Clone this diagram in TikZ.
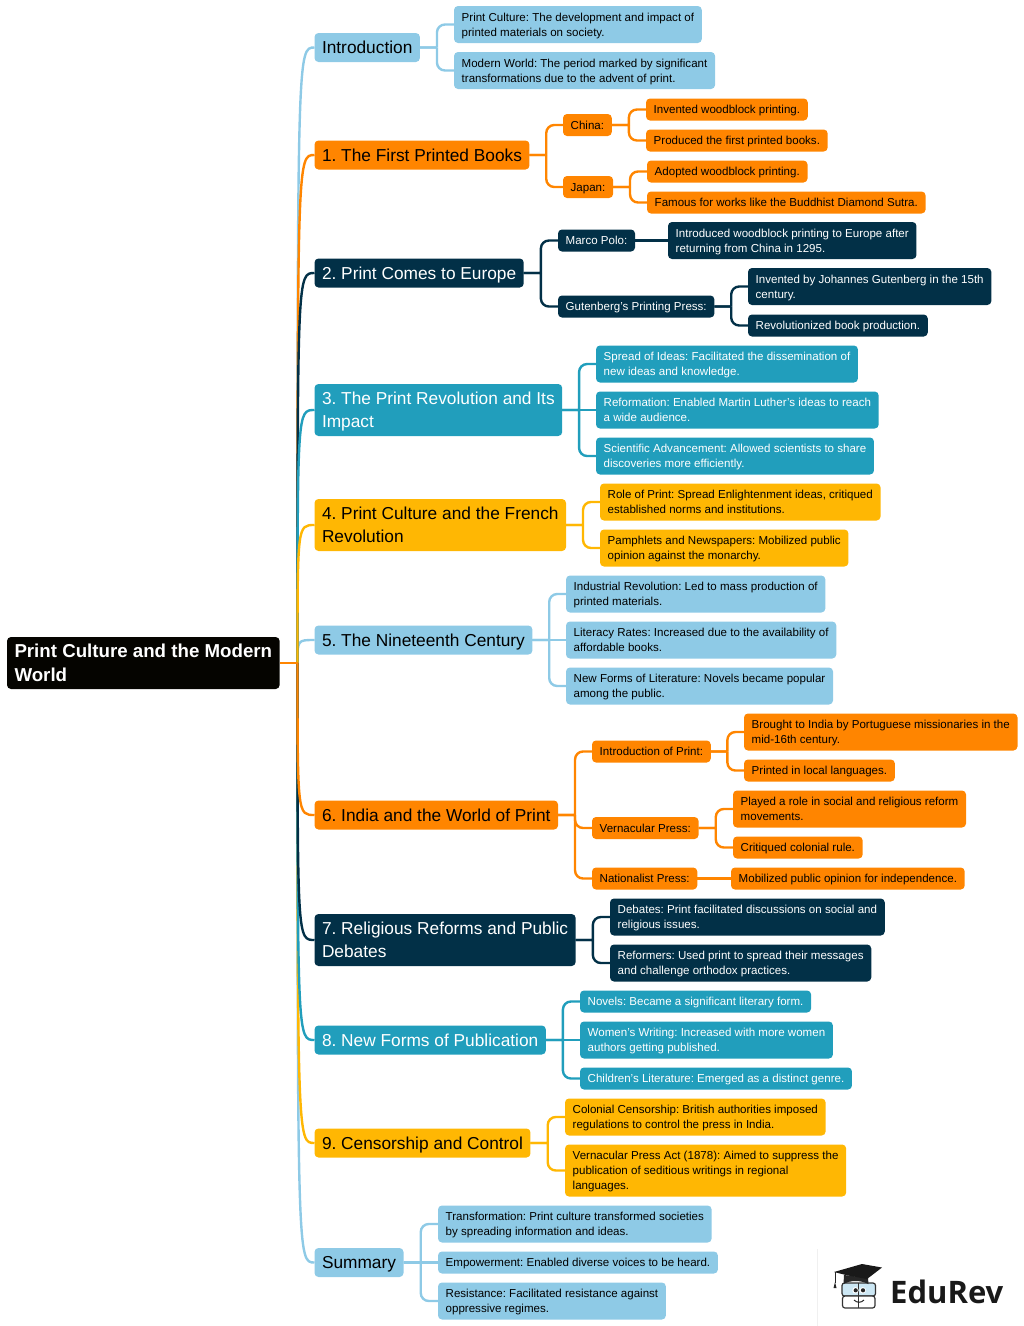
\documentclass[tikz,border=0pt]{standalone}
\usepackage{fontspec}
\setmainfont{Liberation Sans}
\newfontfamily\logofont{Open Sans}
\usetikzlibrary{calc}
\definecolor{skyblue}{HTML}{8ECAE6}
\definecolor{tealblue}{HTML}{219EBC}
\definecolor{navyblue}{HTML}{023047}
\definecolor{amberyellow}{HTML}{FFB703}
\definecolor{deeporange}{HTML}{FF8500}
\definecolor{rootblack}{HTML}{050400}
\newcommand{\boxstrut}{\rule[-0.22\baselineskip]{0pt}{\baselineskip}}
\tikzset{
  box/.style={rounded corners=4pt,anchor=west,align=left,inner xsep=7.5pt,outer sep=0pt,
    execute at begin node={\frenchspacing\boxstrut},execute at end node=\boxstrut},
  rootbox/.style={box,fill=rootblack,text=white,inner ysep=2pt,font=\fontsize{18.7}{24}\selectfont\bfseries},
  mainbox/.style={box,inner ysep=3pt,font=\fontsize{17.3}{23}\selectfont},
  leafbox/.style={box,inner ysep=3.5pt,inner xsep=7.7pt,font=\fontsize{11.55}{15}\selectfont},
  sky/.style={fill=skyblue,text=black},
  orange/.style={fill=deeporange,text=black},
  navy/.style={fill=navyblue,text=white},
  teal/.style={fill=tealblue,text=white},
  amber/.style={fill=amberyellow,text=black},
  trunklink/.style={line width=2.4pt},
  branchlink/.style={line width=2.4pt,rounded corners=8pt},
}
\newcommand{\trunkto}[2]{\draw[trunklink,#1] (joint) .. controls (joint|-#2.west) and (joint|-#2.west) .. (#2.west);}
\newcommand{\branchto}[3]{\coordinate (bend) at ($(#2.east)!0.5!(#2.east-|#3.west)$);
  \draw[branchlink,#1] (#2.east) -- (bend) (bend) |- (#3.west);}
\begin{document}
\begin{tikzpicture}[x=1pt,y=-1pt]
\useasboundingbox (0,0) rectangle (1024,1326);
% root
\node[rootbox] (root) at (7,663) {\boxstrut Print Culture and the Modern\\World};
\coordinate (joint) at (297.5,663);
% main topics
\node[mainbox,sky] (intro) at (314.5,47.5) {Introduction};
\node[mainbox,orange] (books) at (314.5,155) {1. The First Printed Books};
\node[mainbox,navy] (europe) at (314.5,273) {2. Print Comes to Europe};
\node[mainbox,teal] (revol) at (314.5,410) {\boxstrut 3. The Print Revolution and Its\\Impact};
\node[mainbox,amber] (french) at (314.5,525) {\boxstrut 4. Print Culture and the French\\Revolution};
\node[mainbox,sky] (nineteen) at (314.5,640) {5. The Nineteenth Century};
\node[mainbox,orange] (india) at (314.5,815) {6. India and the World of Print};
\node[mainbox,navy] (debates) at (314.5,940) {\boxstrut 7. Religious Reforms and Public\\Debates};
\node[mainbox,teal] (forms) at (314.5,1040) {8. New Forms of Publication};
\node[mainbox,amber] (censor) at (314.5,1143) {9. Censorship and Control};
\node[mainbox,sky] (summary) at (314.5,1262.5) {Summary};
% introduction
\node[leafbox,sky] (culture) at (454,24.5) {\boxstrut Print Culture: The development and impact of\\printed materials on society.};
\node[leafbox,sky] (modern) at (454,70.5) {\boxstrut Modern World: The period marked by significant\\transformations due to the advent of print.};
% first printed books
\node[leafbox,orange] (china) at (563,125) {China:};
\node[leafbox,orange] (japan) at (563,187) {Japan:};
\node[leafbox,orange] (chinaa) at (646,109.5) {Invented woodblock printing.};
\node[leafbox,orange] (chinab) at (646,140.5) {Produced the first printed books.};
\node[leafbox,orange] (japana) at (647,171.5) {Adopted woodblock printing.};
\node[leafbox,orange] (japanb) at (647,202.5) {Famous for works like the Buddhist Diamond Sutra.};
% europe
\node[leafbox,navy] (polo) at (558,240.5) {Marco Polo:};
\node[leafbox,navy] (press) at (558,306.5) {Gutenberg's Printing Press:};
\node[leafbox,navy] (poloa) at (668,240.5) {\boxstrut Introduced woodblock printing to Europe after\\returning from China in 1295.};
\node[leafbox,navy] (pressa) at (748,286.5) {\boxstrut Invented by Johannes Gutenberg in the 15th\\century.};
\node[leafbox,navy] (pressb) at (748,325.5) {Revolutionized book production.};
% print revolution
\node[leafbox,teal] (spread) at (596,364) {\boxstrut Spread of Ideas: Facilitated the dissemination of\\new ideas and knowledge.};
\node[leafbox,teal] (reform) at (596,410) {\boxstrut Reformation: Enabled Martin Luther's ideas to reach\\a wide audience.};
\node[leafbox,teal] (science) at (596,456) {\boxstrut Scientific Advancement: Allowed scientists to share\\discoveries more efficiently.};
% french revolution
\node[leafbox,amber] (role) at (600,502) {\boxstrut Role of Print: Spread Enlightenment ideas, critiqued\\established norms and institutions.};
\node[leafbox,amber] (pamph) at (600,548) {\boxstrut Pamphlets and Newspapers: Mobilized public\\opinion against the monarchy.};
% nineteenth century
\node[leafbox,sky] (indus) at (566,594) {\boxstrut Industrial Revolution: Led to mass production of\\printed materials.};
\node[leafbox,sky] (liter) at (566,640) {\boxstrut Literacy Rates: Increased due to the availability of\\affordable books.};
\node[leafbox,sky] (newlit) at (566,686) {\boxstrut New Forms of Literature: Novels became popular\\among the public.};
% india
\node[leafbox,orange] (introp) at (592,751.5) {Introduction of Print:};
\node[leafbox,orange] (vern) at (592,828) {Vernacular Press:};
\node[leafbox,orange] (nation) at (592,878.5) {Nationalist Press:};
\node[leafbox,orange] (intropa) at (744,732) {\boxstrut Brought to India by Portuguese missionaries in the\\mid-16th century.};
\node[leafbox,orange] (intropb) at (744,770.5) {Printed in local languages.};
\node[leafbox,orange] (verna) at (733,809) {\boxstrut Played a role in social and religious reform\\movements.};
\node[leafbox,orange] (vernb) at (733,847.5) {Critiqued colonial rule.};
\node[leafbox,orange] (nationa) at (731,878.5) {Mobilized public opinion for independence.};
% debates
\node[leafbox,navy] (discuss) at (610,917) {\boxstrut Debates: Print facilitated discussions on social and\\religious issues.};
\node[leafbox,navy] (reformers) at (610,963) {\boxstrut Reformers: Used print to spread their messages\\and challenge orthodox practices.};
% new forms
\node[leafbox,teal] (novels) at (580,1001.5) {Novels: Became a significant literary form.};
\node[leafbox,teal] (women) at (580,1040) {\boxstrut Women's Writing: Increased with more women\\authors getting published.};
\node[leafbox,teal] (children) at (580,1078.5) {Children's Literature: Emerged as a distinct genre.};
% censorship
\node[leafbox,amber] (colonial) at (565,1117) {\boxstrut Colonial Censorship: British authorities imposed\\regulations to control the press in India.};
\node[leafbox,amber] (vpa) at (565,1170.5) {\boxstrut Vernacular Press Act (1878): Aimed to suppress the\\publication of seditious writings in regional\\languages.};
% summary
\node[leafbox,sky] (transf) at (438,1224) {\boxstrut Transformation: Print culture transformed societies\\by spreading information and ideas.};
\node[leafbox,sky] (empow) at (438,1262.5) {Empowerment: Enabled diverse voices to be heard.};
\node[leafbox,sky] (resist) at (438,1301) {\boxstrut Resistance: Facilitated resistance against\\oppressive regimes.};
% trunk, later ones lie over earlier ones
\trunkto{skyblue}{nineteen}
\trunkto{skyblue}{intro}
\trunkto{deeporange}{books}
\trunkto{navyblue}{europe}
\trunkto{tealblue}{revol}
\trunkto{amberyellow}{french}
\trunkto{skyblue}{summary}
\trunkto{amberyellow}{censor}
\trunkto{tealblue}{forms}
\trunkto{navyblue}{debates}
\trunkto{deeporange}{india}
\draw[trunklink,deeporange] (root.east) -- (joint);
% branches
\foreach \from/\to in {intro/culture,intro/modern,nineteen/indus,nineteen/newlit,summary/transf,summary/resist}
  {\branchto{skyblue}{\from}{\to}}
\foreach \from/\to in {books/china,books/japan,china/chinaa,china/chinab,japan/japana,japan/japanb,india/introp,india/vern,india/nation,introp/intropa,introp/intropb,vern/verna,vern/vernb}
  {\branchto{deeporange}{\from}{\to}}
\foreach \from/\to in {europe/polo,europe/press,press/pressa,press/pressb,debates/discuss,debates/reformers}
  {\branchto{navyblue}{\from}{\to}}
\foreach \from/\to in {revol/spread,revol/science,forms/novels,forms/children}
  {\branchto{tealblue}{\from}{\to}}
\foreach \from/\to in {french/role,french/pamph,censor/colonial,censor/vpa}
  {\branchto{amberyellow}{\from}{\to}}
% straight ones
\draw[branchlink,skyblue] (nineteen.east) -- (liter.west) (summary.east) -- (empow.west);
\draw[branchlink,tealblue] (revol.east) -- (reform.west) (forms.east) -- (women.west);
\draw[branchlink,navyblue] (polo.east) -- (poloa.west);
\draw[branchlink,deeporange] (nation.east) -- (nationa.west);
% logo
\draw[line width=0.6pt,black!6] (817.5,1249) -- (817.5,1326);
\node[anchor=west,inner sep=0pt,font=\logofont\fontsize{31}{32}\selectfont\bfseries,text=black!90] (brand) at (890,1292) {EduRev};
\draw[line width=1.2pt,black!80,fill=skyblue!45,rounded corners=2.5pt] (842,1283) rectangle (875.5,1296);
\draw[line width=1.2pt,black!80,fill=white,rounded corners=2.5pt] (842.5,1296) rectangle (875,1308);
\draw[line width=1.2pt,black!80] (858.5,1283) -- (858.5,1308);
\fill[black!85] (844,1275) -- (868,1278) -- (868.5,1284) .. controls (860,1280) and (851,1280) .. (843.5,1284) -- cycle;
\fill[black!90] (834,1272) -- (862,1264) -- (882,1267.5) -- (867,1279) -- (848,1275.5) -- cycle;
\draw[line width=1pt,black!85] (835,1272) -- (835,1283);
\fill[black!85] (835,1282) -- (836.5,1288) -- (833.5,1288) -- cycle;
\fill[white] (855.5,1290.3) circle (3.2pt) (862.8,1290.3) circle (3.2pt);
\fill[black!85] (855.7,1290.3) circle (2.1pt) (863,1290.3) circle (2.1pt);
\draw[line width=1pt,black!85] (854,1300) .. controls (857,1303) and (861,1303) .. (864,1300);
\end{tikzpicture}
\end{document}
